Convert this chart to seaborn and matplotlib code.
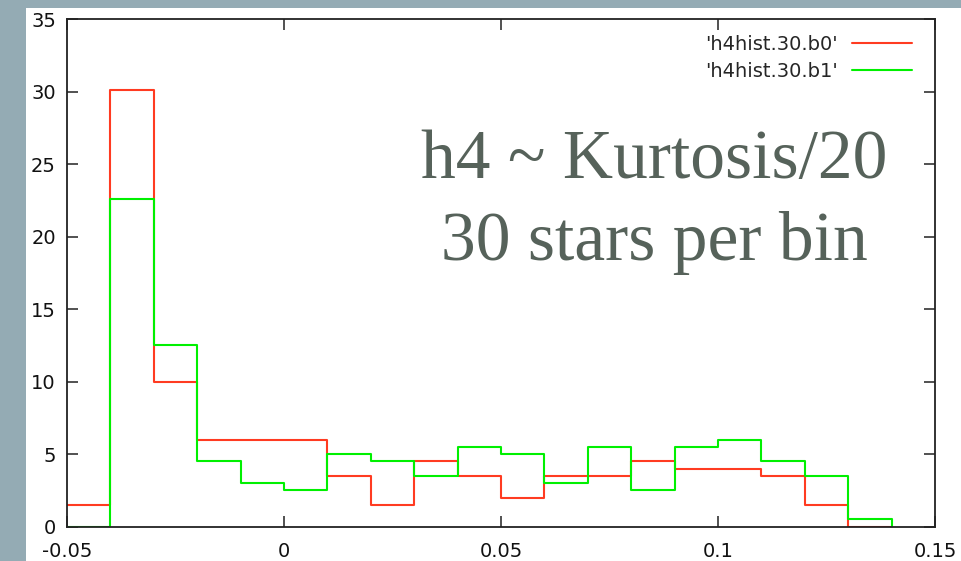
import matplotlib
matplotlib.use("Agg")
import matplotlib.pyplot as plt
import matplotlib.patches as mpatches
import numpy as np
import pandas as pd
import seaborn as sns

# Histogram bins (left edges) and the per-bin values of the two samples
bin_left = [-0.05, -0.04, -0.03, -0.02, -0.01, 0.00, 0.01, 0.02, 0.03, 0.04,
            0.05, 0.06, 0.07, 0.08, 0.09, 0.10, 0.11, 0.12, 0.13]
bin_end = 0.14
b0_values = [1.5, 30.1, 10.0, 6.0, 6.0, 6.0, 3.5, 1.5, 4.5, 3.5,
             2.0, 3.5, 3.5, 4.5, 4.0, 4.0, 3.5, 1.5, 0.0]
b1_values = [0.0, 22.6, 12.55, 4.5, 3.0, 2.5, 5.0, 4.5, 3.5, 5.5,
             5.0, 3.0, 5.5, 2.5, 5.5, 6.0, 4.5, 3.5, 0.5]
series_names = ["'h4hist.30.b0'", "'h4hist.30.b1'"]
series_colors = ["#ff3b21", "#00f000"]

x_ticks = [-0.05, 0, 0.05, 0.1, 0.15]
x_tick_labels = ["-0.05", "0", "0.05", "0.1", "0.15"]
y_ticks = [0, 5, 10, 15, 20, 25, 30, 35]

headline = ["h4 ~ Kurtosis/20", "30 stars per bin"]

sns.set_theme(style="white")
plt.rcParams["font.family"] = ["DejaVu Sans"]

W, H = 961, 561
fig = plt.figure(figsize=(W / 100, H / 100), dpi=100)
fig.patch.set_facecolor("#94abb4")

# white slide panel, kept behind the axes
fig.patches.append(mpatches.Rectangle((26 / W, 0), 1.0, (H - 8) / H,
                                      transform=fig.transFigure,
                                      facecolor="white", edgecolor="none",
                                      zorder=-10))

ax_l, ax_r, ax_t, ax_b = 67, 935, 19.3, 526.7
ax = fig.add_axes([ax_l / W, (H - ax_b) / H, (ax_r - ax_l) / W, (ax_b - ax_t) / H])
ax.set_zorder(1)
ax.set_facecolor("white")

frames = []
for name, vals in zip(series_names, [b0_values, b1_values]):
    frames.append(pd.DataFrame({
        "x": bin_left + [bin_end],
        "y": vals + [0.0],
        "series": name,
    }))
df = pd.concat(frames, ignore_index=True)

sns.lineplot(data=df, x="x", y="y", hue="series", palette=series_colors,
             hue_order=series_names, estimator=None, sort=False,
             drawstyle="steps-post", linewidth=1.5, ax=ax)

ax.set_xlim(-0.05, 0.15)
ax.set_ylim(0, 35)
ax.set_xticks(x_ticks)
ax.set_xticklabels(x_tick_labels)
ax.set_yticks(y_ticks)
ax.set_xlabel("")
ax.set_ylabel("")
ax.tick_params(direction="in", length=8, width=1.1, color="#222222",
               labelsize=14, labelcolor="#111111",
               top=True, right=True, bottom=True, left=True)
ax.tick_params(axis="x", pad=11)
ax.tick_params(axis="y", pad=8)
for sp in ax.spines.values():
    sp.set_visible(True)
    sp.set_color("#222222")
    sp.set_linewidth(1.3)
    sp.set_zorder(5)

leg = ax.legend(loc="upper right",
                bbox_to_anchor=((912 - ax_l) / (ax_r - ax_l), (ax_b - 34.5) / (ax_b - ax_t)),
                frameon=False, markerfirst=False, fontsize=14, handlelength=3.1,
                handletextpad=0.72, labelspacing=0.45, borderpad=0,
                borderaxespad=0)
for line in leg.get_lines():
    line.set_linewidth(1.5)

cx = 654 / W
fig.text(cx, (H - 178) / H, headline[0], ha="center", va="baseline",
         fontsize=50, color="#56625a", family="Liberation Serif", zorder=3)
fig.text(cx, (H - 260) / H, headline[1], ha="center", va="baseline",
         fontsize=50, color="#56625a", family="Liberation Serif", zorder=3)

fig.savefig("out.png", dpi=100, facecolor=fig.get_facecolor())
